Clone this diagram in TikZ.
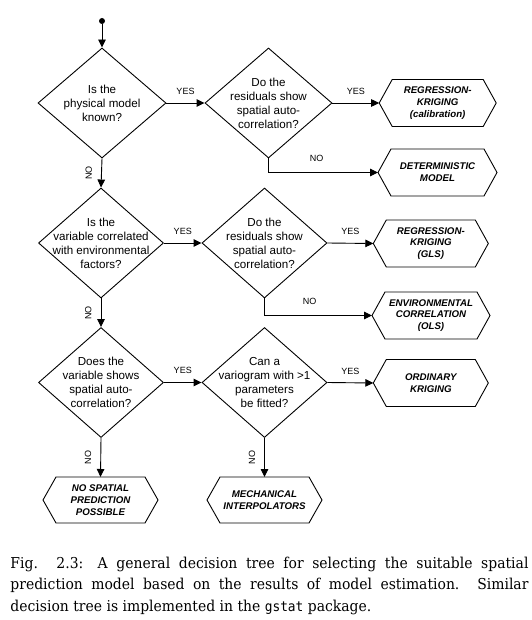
\documentclass[tikz,border=0pt]{standalone}
\usepackage{fontspec}
\setmainfont{Liberation Sans}
\newfontfamily\capfont[FakeStretch=0.93]{DejaVu Serif}
\newfontfamily\capmono[FakeStretch=0.93,Scale=0.92]{DejaVu Sans Mono}
\usetikzlibrary{arrows.meta,shapes.geometric}
\newcommand\hexshape[1]{\draw (#1.west) -- ([xshift=13pt]#1.north west) -- ([xshift=-13pt]#1.north east) -- (#1.east) -- ([xshift=-13pt]#1.south east) -- ([xshift=13pt]#1.south west) -- cycle;}
\begin{document}
\begin{tikzpicture}[x=1pt,y=-1pt,line width=0.9pt,line join=miter,
  dia/.style={diamond,draw,minimum height=110pt,inner sep=0pt},
  qtext/.style={align=center,font=\fontsize{11.6}{14}\selectfont,inner sep=0pt},
  hexa/.style={minimum height=47pt,inner sep=0pt,outer sep=0pt,align=center,font=\fontsize{9.7}{11.7}\selectfont\bfseries\itshape},
  lab/.style={font=\fontsize{9}{10}\selectfont,inner sep=0pt},
  arr/.style={-{Triangle[length=8pt,width=7.5pt]}},
  captext/.style={inner sep=0pt,anchor=base west,font=\capfont\fontsize{15}{21.5}\selectfont}
]
\useasboundingbox (0,0) rectangle (531,620);

% start
\node[circle,fill,inner sep=0pt,minimum size=6pt] (start) at (102,21) {};

% diamonds
\node[dia,minimum width=128pt] (q1) at (102,103) {};
\node[qtext] (q1t) at (q1.center) {Is the\\physical model\\known?};
\node[dia,minimum width=127pt] (q2) at (268.5,103) {};
\node[qtext] (q2t) at (q2.center) {Do the\\residuals show\\spatial auto-\\correlation?};

\node[dia,minimum width=125pt] (q3) at (101,243) {};
\node[qtext] (q3t) at (q3.center) {Is the\\variable correlated\\with environmental\\factors?};
\node[dia,minimum width=125pt] (q4) at (264.5,243) {};
\node[qtext] (q4t) at (q4.center) {Do the\\residuals show\\spatial auto-\\correlation?};

\node[dia,minimum width=125pt] (q5) at (101,382.5) {};
\node[qtext] (q5t) at (q5.center) {Does the\\variable shows\\spatial auto-\\correlation?};
\node[dia,minimum width=125pt] (q6) at (264.5,382.5) {};
\node[qtext] (q6t) at (q6.center) {Can a\\variogram with >1\\parameters\\be fitted?};

% hexagons
\node[hexa,minimum width=117pt] (h1) at (437.7,103) {REGRESSION-\\KRIGING\\(calibration)};
\node[hexa,minimum width=119pt] (h2) at (437.5,172.5) {DETERMINISTIC\\MODEL};
\node[hexa,minimum width=115pt] (h3) at (430.8,243.5) {REGRESSION-\\KRIGING\\(GLS)};
\node[hexa,minimum width=118pt] (h4) at (431,315.5) {ENVIRONMENTAL\\CORRELATION\\(OLS)};
\node[hexa,minimum width=115pt] (h5) at (430.8,383) {ORDINARY\\KRIGING};
\node[hexa,minimum width=115pt,minimum height=46pt] (h6) at (100.5,500) {NO SPATIAL\\PREDICTION\\POSSIBLE};
\node[hexa,minimum width=115pt,minimum height=46pt] (h7) at (264.5,500) {MECHANICAL\\INTERPOLATORS};
\foreach \h in {h1,h2,h3,h4,h5,h6,h7}{\hexshape{\h}}

% connectors
\draw[arr] (start) -- (q1.north);
\draw[arr] (q1.east) -- node[lab,above=8pt]{YES} (q2.west);
\draw[arr] (q2.east) -- node[lab,above=8pt]{YES} (h1.west);
\draw[arr] (q2.south) |- node[lab,pos=0.72,above=10.5pt]{NO} (h2.west);
\draw[arr] (q1.south) -- node[lab,xshift=-12.7pt,rotate=90]{NO} (q3.north);

\draw[arr] (q3.east) -- node[lab,above=8pt]{YES} (q4.west);
\draw[arr] (q4.east) -- node[lab,above=8pt]{YES} (h3.west);
\draw[arr] (q4.south) |- node[lab,pos=0.71,above=10.5pt]{NO} (h4.west);
\draw[arr] (q3.south) -- node[lab,xshift=-12.7pt,rotate=90]{NO} (q5.north);

\draw[arr] (q5.east) -- node[lab,above=8pt]{YES} (q6.west);
\draw[arr] (q6.east) -- node[lab,above=8pt]{YES} (h5.west);
\draw[arr] (q5.south) -- node[lab,xshift=-12.7pt,rotate=90]{NO} (h6.north);
\draw[arr] (q6.south) -- node[lab,xshift=-12.5pt,rotate=90]{NO} (h7.north);

% caption
\node[captext] (cap1) at (10,568) {\makebox[518pt][s]{Fig. 2.3: A general decision tree for selecting the suitable spatial}};
\node[captext] (cap2) at (10,589.5) {\makebox[518pt][s]{prediction model based on the results of model estimation. Similar}};
\node[captext] (cap3) at (10,611) {decision tree is implemented in the {\capmono gstat} package.};
\end{tikzpicture}
\end{document}
